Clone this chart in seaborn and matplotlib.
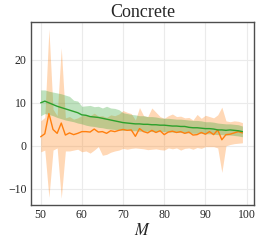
import numpy as np
import pandas as pd
import matplotlib
matplotlib.use("Agg")
import matplotlib.pyplot as plt
import seaborn as sns

M = list(range(50, 100))

orange_mean = [2.1, 2.8, 7.5, 3.8, 2.9, 5.3, 2.5, 3.0, 2.6, 2.9,
               3.3, 3.3, 3.2, 3.9, 3.2, 3.3, 2.9, 3.5, 3.3, 3.6,
               3.8, 3.6, 3.7, 2.2, 4.0, 3.3, 3.0, 3.6, 3.1, 3.5,
               2.6, 3.2, 3.4, 3.1, 3.3, 2.9, 3.2, 2.5, 2.6, 3.1,
               2.7, 3.3, 2.6, 3.7, 1.4, 2.6, 2.7, 3.0, 3.3, 3.0]
orange_upper = [5.8, 6.6, 27.2, 8.5, 7.0, 22.8, 6.5, 6.8, 6.2, 6.5,
                7.0, 7.2, 7.0, 7.6, 6.9, 7.0, 6.6, 7.2, 7.0, 7.4,
                8.2, 7.8, 7.5, 6.0, 8.9, 7.0, 6.8, 8.8, 7.8, 6.8,
                6.4, 7.0, 7.4, 6.8, 6.9, 6.5, 6.6, 6.0, 7.3, 6.4,
                7.1, 6.8, 6.5, 7.2, 9.0, 5.8, 5.6, 5.8, 5.7, 5.4]
orange_lower = [-1.4, -1.0, -12.0, -1.0, -0.5, -12.2, -1.2, -1.2, -1.0, -0.8,
                -1.4, -1.2, -1.7, -1.0, -0.2, -2.2, -2.0, -1.5, -1.2, -1.0,
                -0.6, -0.8, -0.6, -0.5, -0.6, -0.7, -0.9, -0.8, -0.7, -0.9,
                -1.0, -0.5, -0.7, -0.5, -1.0, -0.6, -0.5, -0.8, -0.4, -0.6,
                -0.2, -0.2, -0.2, -0.5, -6.2, 0.0, 0.3, 0.5, 0.6, 0.7]

green_mean = [10.0, 10.4, 10.0, 9.6, 9.2, 8.9, 8.6, 8.3, 8.0, 7.7,
              7.2, 7.1, 6.8, 6.7, 6.6, 6.4, 6.2, 6.0, 5.8, 5.6,
              5.4, 5.3, 5.2, 5.1, 5.1, 5.0, 5.0, 4.9, 4.9, 4.8,
              4.8, 4.7, 4.6, 4.6, 4.5, 4.5, 4.3, 4.2, 4.2, 4.1,
              4.0, 4.0, 3.9, 3.7, 3.7, 3.6, 3.7, 3.6, 3.5, 3.3]
green_upper = [13.0, 13.0, 12.7, 12.5, 12.3, 12.1, 11.8, 11.5, 10.6, 10.4,
               9.2, 9.3, 9.4, 9.1, 9.2, 8.8, 9.2, 8.8, 8.7, 8.4,
               7.7, 7.5, 7.3, 7.2, 7.0, 7.0, 6.8, 6.8, 6.7, 6.5,
               6.4, 6.4, 6.3, 6.2, 6.2, 6.1, 6.0, 5.9, 5.9, 5.8,
               5.6, 5.6, 5.5, 5.3, 5.2, 5.1, 5.1, 5.0, 4.9, 4.6]
green_lower = [7.0, 7.5, 7.3, 7.0, 6.6, 6.3, 6.0, 5.8, 5.6, 5.3,
               5.1, 4.8, 4.6, 4.5, 4.3, 4.2, 4.0, 3.9, 3.8, 3.7,
               3.6, 3.6, 3.5, 3.5, 3.4, 3.4, 3.4, 3.3, 3.3, 3.3,
               3.3, 3.2, 3.2, 3.1, 3.1, 3.0, 3.0, 2.9, 2.9, 2.9,
               2.8, 2.8, 2.7, 2.6, 2.6, 2.5, 2.5, 2.4, 2.3, 2.1]

df = pd.DataFrame({"M": M, "orange": orange_mean, "green": green_mean})

sns.set_style("whitegrid")
plt.rcParams['font.family'] = ['Liberation Serif', 'DejaVu Serif']
plt.rcParams['mathtext.fontset'] = 'stix'

fig = plt.figure(figsize=(2.61, 2.43), dpi=100)
ax = fig.add_axes([0.118, 0.156, 0.855, 0.755])

ax.fill_between(M, orange_lower, orange_upper, color="tab:orange", alpha=0.3, linewidth=0)
ax.fill_between(M, green_lower, green_upper, color="tab:green", alpha=0.3, linewidth=0)
sns.lineplot(data=df, x="M", y="orange", color="tab:orange", linewidth=1, ax=ax)
sns.lineplot(data=df, x="M", y="green", color="tab:green", linewidth=1, ax=ax)

ax.set_xlim(47.6, 101.8)
ax.set_ylim(-13.8, 28.9)
ax.set_xticks([50, 60, 70, 80, 90, 100])
ax.set_yticks([-10, 0, 10, 20])
ax.grid(color="#ebebeb", linewidth=0.8)
for s in ax.spines.values():
    s.set_color("0.3")
    s.set_linewidth(1)
ax.tick_params(labelsize=8.5, length=0, pad=3)
ax.set_ylabel("")
ax.set_xlabel("$M$", fontsize=12, labelpad=1)
ax.set_title("Concrete", fontsize=13, pad=3)

fig.savefig("out.png", dpi=100)
